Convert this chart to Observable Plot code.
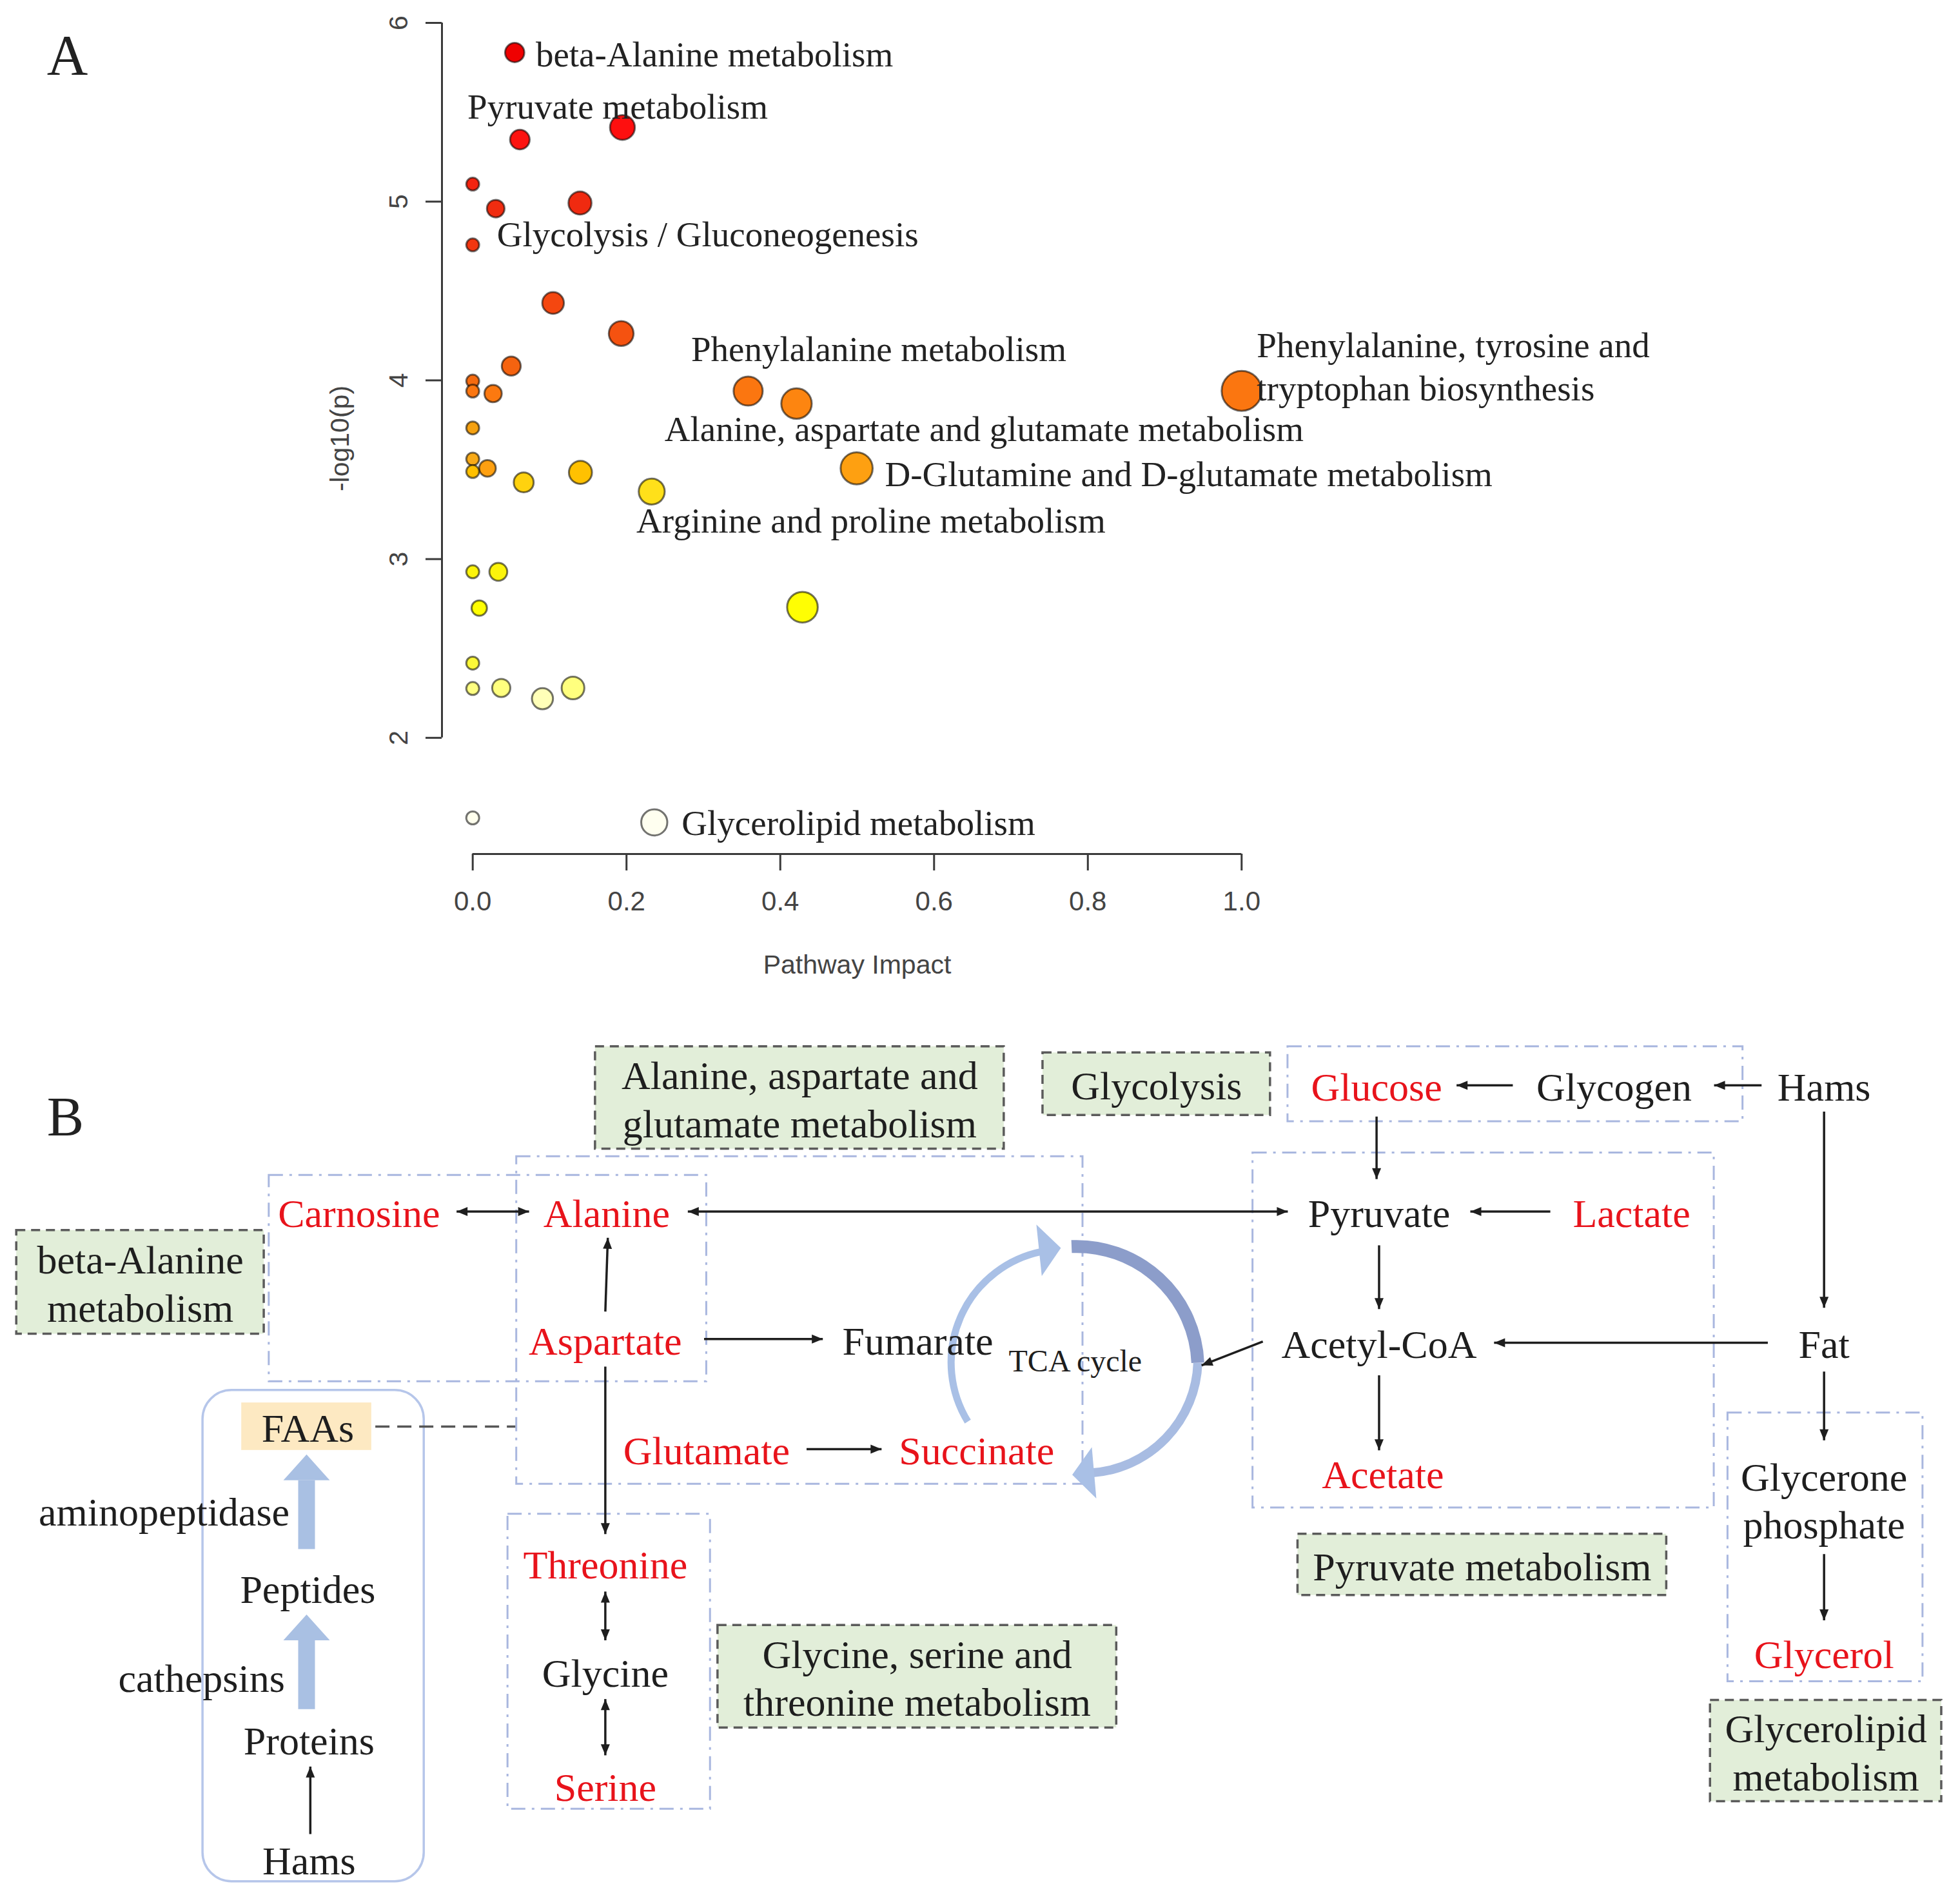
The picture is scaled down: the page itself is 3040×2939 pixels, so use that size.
<!DOCTYPE html>
<html>
<head>
<meta charset="utf-8">
<script src="https://cdn.jsdelivr.net/npm/d3@7"></script>
<script src="https://cdn.jsdelivr.net/npm/@observablehq/plot@0.6"></script>
<style>
html, body { margin: 0; padding: 0; background: #fff; }
#chart svg { display: block; }
</style>
</head>
<body>
<div id="chart"></div>
<script>
// ================= Panel A data =================
const pathwayImpact = [0.0546, 0.1947, 0.0613, 0, 0.0299, 0.1395, 0, 0.1045, 0.1931, 0.0501,
  0, 0, 0.0265, 0.3582, 0.4211, 1.0, 0, 0, 0, 0.0192,
  0.0663, 0.1401, 0.2328, 0.4993, 0, 0.0333, 0.0085, 0.4288, 0, 0,
  0.0371, 0.0907, 0.1304, 0, 0.2361];
const pathwayLogP = [5.834, 5.415, 5.347, 5.098, 4.961, 4.992, 4.758, 4.433, 4.262, 4.080,
  3.996, 3.940, 3.926, 3.940, 3.870, 3.941, 3.734, 3.560, 3.490, 3.508,
  3.429, 3.485, 3.378, 3.508, 2.929, 2.929, 2.726, 2.731, 2.418, 2.276,
  2.279, 2.219, 2.279, 1.552, 1.527];

const labelText = [
  "beta-Alanine metabolism",
  "Pyruvate metabolism",
  "Glycolysis / Gluconeogenesis",
  "Phenylalanine metabolism",
  "Phenylalanine, tyrosine and\ntryptophan biosynthesis",
  "Alanine, aspartate and glutamate metabolism",
  "D-Glutamine and D-glutamate metabolism",
  "Arginine and proline metabolism",
  "Glycerolipid metabolism"
];
const labelImpact = [0.0819, -0.0068, 0.0315, 0.2841, 1.0197, 0.2495, 0.5360, 0.2129, 0.2718];
const labelLogP   = [5.834, 5.543, 4.826, 4.187, 4.085, 3.737, 3.485, 3.227, 1.534];

const xTicks = [0, 0.2, 0.4, 0.6, 0.8, 1.0];
const yTicks = [2, 3, 4, 5, 6];
const xLabel = "Pathway Impact";
const yLabel = "-log10(p)";

// ================= Panel B data (diagram units) =================
const nodes = [
  {name: "Carnosine", x: 287, y: 969, changed: true},
  {name: "Alanine", x: 485, y: 969, changed: true},
  {name: "Pyruvate", x: 1103, y: 969, changed: false},
  {name: "Lactate", x: 1305, y: 969, changed: true},
  {name: "Glucose", x: 1101, y: 868, changed: true},
  {name: "Glycogen", x: 1291, y: 868, changed: false},
  {name: "Hams", x: 1459, y: 868, changed: false},
  {name: "Aspartate", x: 484, y: 1071, changed: true},
  {name: "Fumarate", x: 734, y: 1071, changed: false},
  {name: "Acetyl-CoA", x: 1103, y: 1074, changed: false},
  {name: "Fat", x: 1459, y: 1074, changed: false},
  {name: "Glutamate", x: 565, y: 1159, changed: true},
  {name: "Succinate", x: 781, y: 1159, changed: true},
  {name: "Acetate", x: 1106, y: 1178, changed: true},
  {name: "FAAs", x: 246, y: 1141, changed: false},
  {name: "aminopeptidase", x: 131, y: 1208, changed: false},
  {name: "Peptides", x: 246, y: 1270, changed: false},
  {name: "cathepsins", x: 161, y: 1341, changed: false},
  {name: "Proteins", x: 247, y: 1391, changed: false},
  {name: "Hams", x: 247, y: 1487, changed: false},
  {name: "Threonine", x: 484, y: 1250, changed: true},
  {name: "Glycine", x: 484, y: 1337, changed: false},
  {name: "Serine", x: 484, y: 1428, changed: true},
  {name: "Glycerone\nphosphate", x: 1459, y: 1199, changed: false},
  {name: "Glycerol", x: 1459, y: 1322, changed: true}
];

const regionBoxes = [
  {x1: 215, y1: 940, x2: 565, y2: 1105},
  {x1: 413, y1: 925, x2: 866, y2: 1187},
  {x1: 1030, y1: 837, x2: 1394, y2: 897},
  {x1: 1002, y1: 922, x2: 1371, y2: 1206},
  {x1: 406, y1: 1211, x2: 568, y2: 1447},
  {x1: 1382, y1: 1130, x2: 1538, y2: 1345}
];

const pathwayBoxes = [
  {label: "Alanine, aspartate and\nglutamate metabolism", x1: 476, y1: 837, x2: 803, y2: 919},
  {label: "Glycolysis", x1: 834, y1: 842, x2: 1016, y2: 892},
  {label: "beta-Alanine\nmetabolism", x1: 13, y1: 984, x2: 211, y2: 1067},
  {label: "Pyruvate metabolism", x1: 1038, y1: 1227, x2: 1333, y2: 1276},
  {label: "Glycine, serine and\nthreonine metabolism", x1: 574, y1: 1300, x2: 893, y2: 1382},
  {label: "Glycerolipid\nmetabolism", x1: 1368, y1: 1360, x2: 1553, y2: 1441}
];

const arrows = [
  {x1: 1210, y1: 868, x2: 1165, y2: 868},
  {x1: 1409, y1: 868, x2: 1371, y2: 868},
  {x1: 1240, y1: 969, x2: 1176, y2: 969},
  {x1: 1101, y1: 893, x2: 1101, y2: 943},
  {x1: 1103, y1: 996, x2: 1103, y2: 1047},
  {x1: 1103, y1: 1100, x2: 1103, y2: 1160},
  {x1: 1414, y1: 1074, x2: 1195, y2: 1074},
  {x1: 1459, y1: 889, x2: 1459, y2: 1046},
  {x1: 1459, y1: 1097, x2: 1459, y2: 1152},
  {x1: 1459, y1: 1243, x2: 1459, y2: 1296},
  {x1: 1010, y1: 1073, x2: 961, y2: 1092},
  {x1: 484, y1: 1049, x2: 486, y2: 990},
  {x1: 563, y1: 1071, x2: 658, y2: 1071},
  {x1: 484, y1: 1093, x2: 484, y2: 1227},
  {x1: 645, y1: 1159, x2: 705, y2: 1159},
  {x1: 248, y1: 1467, x2: 248, y2: 1413}
];
const doubleArrows = [
  {x1: 365, y1: 969, x2: 423, y2: 969},
  {x1: 550, y1: 969, x2: 1030, y2: 969},
  {x1: 484, y1: 1273, x2: 484, y2: 1312},
  {x1: 484, y1: 1359, x2: 484, y2: 1404}
];
const faaLink = [{x1: 300, y1: 1141, x2: 412, y2: 1141}];
const faaBox = [{x1: 193, y1: 1122, x2: 297, y2: 1160}];
const sourceBox = [{x1: 162, y1: 1112, x2: 339, y2: 1505}];
const fatArrows = [
  {x: 245, y1: 1239, yBase: 1184},
  {x: 245, y1: 1367, yBase: 1312}
];
const tcaArcs = [
  {x1: 774, y1: 1137, x2: 833, y2: 1001},
  {x1: 857, y1: 997, x2: 958, y2: 1090},
  {x1: 958, y1: 1090, x2: 873, y2: 1178}
];
const tcaHeads = [
  {x: 831, y: 1000, angle: 84},
  {x: 875, y: 1178, angle: -95}
];
const tcaLabel = [{text: "TCA cycle", x: 860, y: 1089}];

// ================= rendering =================
const serif = "'Liberation Serif', 'Times New Roman', serif";
const sans = "'Liberation Sans', Arial, sans-serif";
const ink = "#1e1e1e";
const red = "#e8131b";
const axisInk = "#3a3a3a";

const pathways = pathwayImpact.map((impact, i) => ({impact, logp: pathwayLogP[i]}));
const labelsA = labelText.map((text, i) => ({text, impact: labelImpact[i], logp: labelLogP[i]}));
const xDomain = [-0.04, 1.04];
const yDomain = [1.35, 6.0];

const colorStops = [1.5, 2.22, 2.3, 2.45, 2.75, 3.0, 3.38, 3.49, 3.50, 3.56, 3.75, 3.9, 4.0, 4.3, 5.0, 5.4, 5.85];
const colorRange = ["#fffff2", "#ffffb8", "#ffff6a", "#fbf62a", "#ffff00", "#fbef10", "#ffe01a", "#ffc000",
  "#ff9f10", "#f8aa18", "#f5a010", "#ff7e10", "#f56a10", "#f54e10", "#f02a10", "#ff1010", "#ee0000"];

const plotA = Plot.plot({
  width: 3040,
  height: 1580,
  marginLeft: 685,
  marginRight: 1067,
  marginTop: 35,
  marginBottom: 256,
  x: {domain: xDomain},
  y: {domain: yDomain},
  r: {type: "sqrt", domain: [0, 1], range: [10, 31]},
  color: {type: "linear", domain: colorStops, range: colorRange},
  style: {background: "#fff", fontFamily: serif},
  marks: [
    Plot.ruleX([xDomain[0]], {y1: yTicks[0], y2: yTicks[yTicks.length - 1], stroke: axisInk, strokeWidth: 3}),
    Plot.axisY({ticks: yTicks, tickSize: 25, tickFormat: () => "", label: null, stroke: axisInk, strokeWidth: 3}),
    Plot.text(yTicks, {y: d => d, frameAnchor: "left", dx: -67, rotate: -90, text: d => String(d),
      textAnchor: "middle", lineAnchor: "middle", fontSize: 41, fill: "#444", fontFamily: sans}),
    Plot.text([yLabel], {frameAnchor: "left", dx: -158, rotate: -90, text: d => d,
      textAnchor: "middle", lineAnchor: "middle", fontSize: 41, fill: "#444", fontFamily: sans}),
    Plot.ruleY([yDomain[0]], {x1: xTicks[0], x2: xTicks[xTicks.length - 1], stroke: axisInk, strokeWidth: 3}),
    Plot.axisX({ticks: xTicks, tickSize: 26, tickFormat: () => "", label: null, stroke: axisInk, strokeWidth: 3}),
    Plot.text(xTicks, {x: d => d, frameAnchor: "bottom", dy: 87, text: d => d.toFixed(1),
      fontSize: 42, fill: "#444", fontFamily: sans}),
    Plot.text([xLabel], {frameAnchor: "bottom", dy: 185, text: d => d,
      fontSize: 41, fill: "#444", fontFamily: sans}),
    Plot.dot(pathways, {x: "impact", y: "logp", r: "impact", fill: "logp",
      stroke: "#000", strokeOpacity: 0.55, strokeWidth: 3}),
    Plot.text(labelsA, {x: "impact", y: "logp", text: "text", textAnchor: "start",
      fontSize: 55, lineHeight: 1.22, fill: "#222", fontFamily: serif}),
    Plot.text(["A"], {frameAnchor: "top-left", dx: -581, dy: 51, text: d => d,
      textAnchor: "middle", lineAnchor: "middle", fontSize: 88, fill: "#222", fontFamily: serif})
  ]
});

// arrowhead shape (triangle) for vector marks
const headShape = {
  draw(context, l, r) {
    context.moveTo(0, -l);
    context.lineTo(r, 0);
    context.lineTo(-r, 0);
    context.closePath();
  }
};
const headOf = (a, atEnd) => {
  const [fx, fy, tx, ty] = atEnd ? [a.x1, a.y1, a.x2, a.y2] : [a.x2, a.y2, a.x1, a.y1];
  return {x: tx, y: ty, angle: Math.atan2(tx - fx, -(ty - fy)) * 180 / Math.PI};
};
const arrowHeads = [
  ...arrows.map(a => headOf(a, true)),
  ...doubleArrows.map(a => headOf(a, true)),
  ...doubleArrows.map(a => headOf(a, false))
];
const allLines = [...arrows, ...doubleArrows];

const plotB = Plot.plot({
  width: 3040,
  height: 1359,
  margin: 0,
  x: {domain: [0, 1568], axis: null},
  y: {domain: [815, 1516], reverse: true, axis: null},
  color: {type: "identity"},
  style: {background: "#fff", fontFamily: serif},
  marks: [
    Plot.rect(regionBoxes, {x1: "x1", x2: "x2", y1: "y1", y2: "y2", fill: "none",
      stroke: "#a9b7df", strokeWidth: 3, strokeDasharray: "22,10,4,10"}),
    Plot.rect(pathwayBoxes, {x1: "x1", x2: "x2", y1: "y1", y2: "y2", fill: "#e2eed9",
      stroke: "#5b5b5b", strokeWidth: 3.5, strokeDasharray: "14,9"}),
    Plot.text(pathwayBoxes, {x: d => (d.x1 + d.x2) / 2, y: d => (d.y1 + d.y2) / 2, text: "label",
      fontSize: 62, lineHeight: 1.2, fill: ink, fontFamily: serif}),
    Plot.rect(faaBox, {x1: "x1", x2: "x2", y1: "y1", y2: "y2", fill: "#fde9c2"}),
    Plot.rect(sourceBox, {x1: "x1", x2: "x2", y1: "y1", y2: "y2", fill: "none",
      stroke: "#b6c6ea", strokeWidth: 3.5, rx: 45}),
    Plot.link(faaLink, {x1: "x1", y1: "y1", x2: "x2", y2: "y2", stroke: "#555",
      strokeWidth: 3.5, strokeDasharray: "22,12"}),
    // thick blue arrows (proteolysis)
    Plot.link(fatArrows, {x1: "x", x2: "x", y1: "y1", y2: "yBase", stroke: "#a9c0e3", strokeWidth: 26}),
    Plot.vector(fatArrows, {x: "x", y: "yBase", length: 40, r: 36, anchor: "start",
      shape: headShape, fill: "#a9c0e3", stroke: "none"}),
    // TCA cycle
    Plot.arrow(tcaArcs.slice(0, 1), {x1: "x1", y1: "y1", x2: "x2", y2: "y2", bend: 55, headLength: 0,
      stroke: "#a9c0e6", strokeWidth: 11, strokeLinecap: "butt"}),
    Plot.arrow(tcaArcs.slice(1, 2), {x1: "x1", y1: "y1", x2: "x2", y2: "y2", bend: 45, headLength: 0,
      stroke: "#8c9dca", strokeWidth: 20, strokeLinecap: "butt"}),
    Plot.arrow(tcaArcs.slice(2, 3), {x1: "x1", y1: "y1", x2: "x2", y2: "y2", bend: 42, headLength: 0,
      stroke: "#a8bce2", strokeWidth: 14, strokeLinecap: "butt"}),
    Plot.vector(tcaHeads, {x: "x", y: "y", rotate: "angle", length: 34, r: 40, anchor: "start",
      shape: headShape, fill: "#a9c0e6", stroke: "none"}),
    Plot.text(tcaLabel, {x: "x", y: "y", text: "text", fontSize: 48, fill: ink, fontFamily: serif}),
    // black reaction arrows
    Plot.link(allLines, {x1: "x1", y1: "y1", x2: "x2", y2: "y2", stroke: ink, strokeWidth: 3.5}),
    Plot.vector(arrowHeads, {x: "x", y: "y", rotate: "angle", length: 17, r: 7, anchor: "end",
      shape: headShape, fill: ink, stroke: "none"}),
    // metabolite names
    Plot.text(nodes, {x: "x", y: "y", text: "name", fill: d => d.changed ? red : ink,
      fontSize: 62, lineHeight: 1.2, fontFamily: serif}),
    Plot.text(["B"], {x: () => 52, y: () => 894, text: d => d, fontSize: 86, fill: "#222", fontFamily: serif})
  ]
});

const root = document.getElementById("chart");
root.appendChild(plotA);
root.appendChild(plotB);
</script>
</body>
</html>
